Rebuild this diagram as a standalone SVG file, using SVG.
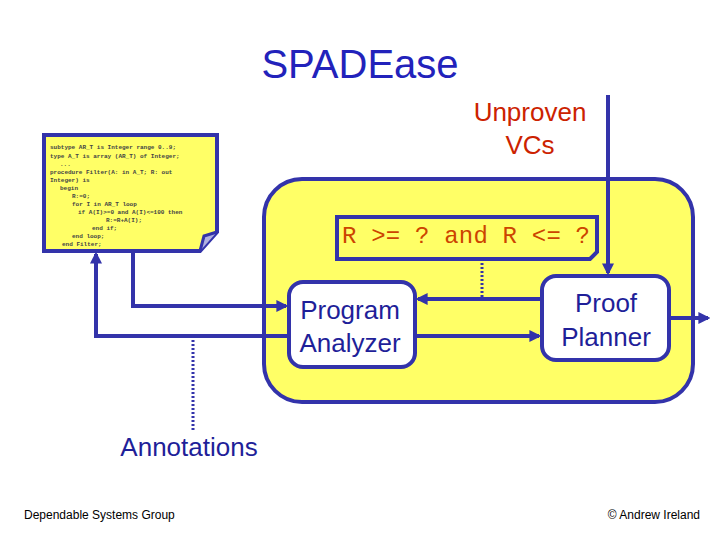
<svg xmlns="http://www.w3.org/2000/svg" width="720" height="540" viewBox="0 0 720 540">
<style>
.b{stroke:#3333aa;stroke-width:4;fill:none}
.y{fill:#ffff66;stroke:#3333aa;stroke-width:4}
.w{fill:#fff;stroke:#3333aa;stroke-width:4}
.t{font-family:"Liberation Sans",Arial,sans-serif;fill:#1f1f99}
.c{font-family:"Liberation Mono",monospace;font-size:6px;font-weight:bold;fill:#444}
</style>
<defs><marker id="a" viewBox="0 0 10 10" refX="8" refY="5" markerWidth="3" markerHeight="3" orient="auto"><path d="M0,0L10,5L0,10z" fill="#3333aa"/></marker></defs>
<rect width="720" height="540" fill="#fff"/>
<text class="t" x="360" y="78" font-size="40" style="fill:#2222bb" text-anchor="middle">SPADEase</text>
<text class="t" x="530" y="121" font-size="26" style="fill:#cc2200" text-anchor="middle">Unproven</text>
<text class="t" x="530" y="154" font-size="26" style="fill:#cc2200" text-anchor="middle">VCs</text>
<g id="system"><rect class="y" x="264" y="179" width="429" height="223" rx="38"/></g>
<g id="note"><path class="y" d="M44,135H217V232L200,251H44Z"/><path d="M200,251L204,236L217,232" fill="#b0b0e0" stroke="#3333aa" stroke-width="3"/>
<text class="c" x="50" y="149">subtype AR_T is Integer range 0..9;</text>
<text class="c" x="50" y="158">type A_T is array (AR_T) of Integer;</text>
<text class="c" x="60" y="166">...</text>
<text class="c" x="50" y="174">procedure Filter(A: in A_T; R: out</text>
<text class="c" x="50" y="182">Integer) is</text>
<text class="c" x="60" y="190">begin</text>
<text class="c" x="72" y="198">R:=0;</text>
<text class="c" x="72" y="206">for I in AR_T loop</text>
<text class="c" x="78" y="214">if A(I)>=0 and A(I)&lt;=100 then</text>
<text class="c" x="106" y="222">R:=R+A(I);</text>
<text class="c" x="92" y="230">end if;</text>
<text class="c" x="72" y="238">end loop;</text>
<text class="c" x="62" y="246">end Filter;</text></g>
<g id="annot"><path class="y" d="M337,217H597V252L590,259H337Z"/>
<text x="342" y="243" font-family="Liberation Mono,monospace" font-size="24" fill="#cc4400" textLength="248">R &gt;= ? and R &lt;= ?</text></g>
<g id="pa"><rect class="w" x="289" y="282" width="126" height="85" rx="14"/>
<text class="t" x="350" y="319" font-size="26" text-anchor="middle">Program</text>
<text class="t" x="350" y="352" font-size="26" text-anchor="middle">Analyzer</text></g>
<g id="pp"><rect class="w" x="542" y="276" width="127" height="84" rx="14"/>
<text class="t" x="606" y="312" font-size="26" text-anchor="middle">Proof</text>
<text class="t" x="606" y="346" font-size="26" text-anchor="middle">Planner</text></g>
<g id="connectors">
<path class="b" d="M133,252V306H286" marker-end="url(#a)"/>
<path class="b" d="M289,336H96V254" marker-end="url(#a)"/>
<path class="b" d="M415,336H539" marker-end="url(#a)"/>
<path class="b" d="M542,299H418" marker-end="url(#a)"/>
<path class="b" d="M669,318H708" marker-end="url(#a)"/>
<path class="b" d="M608,95V273" marker-end="url(#a)"/>
<path d="M482,259V299" stroke="#3333aa" stroke-width="3" stroke-dasharray="2,2"/>
<path d="M193,336V430" stroke="#3333aa" stroke-width="3" stroke-dasharray="2,2"/>
</g>
<text class="t" x="189" y="456" font-size="26" text-anchor="middle">Annotations</text>
<text x="24" y="519" font-family="Liberation Sans,Arial,sans-serif" font-size="12" fill="#000">Dependable Systems Group</text>
<text x="700" y="519" font-family="Liberation Sans,Arial,sans-serif" font-size="12" fill="#000" text-anchor="end">© Andrew Ireland</text>
</svg>
